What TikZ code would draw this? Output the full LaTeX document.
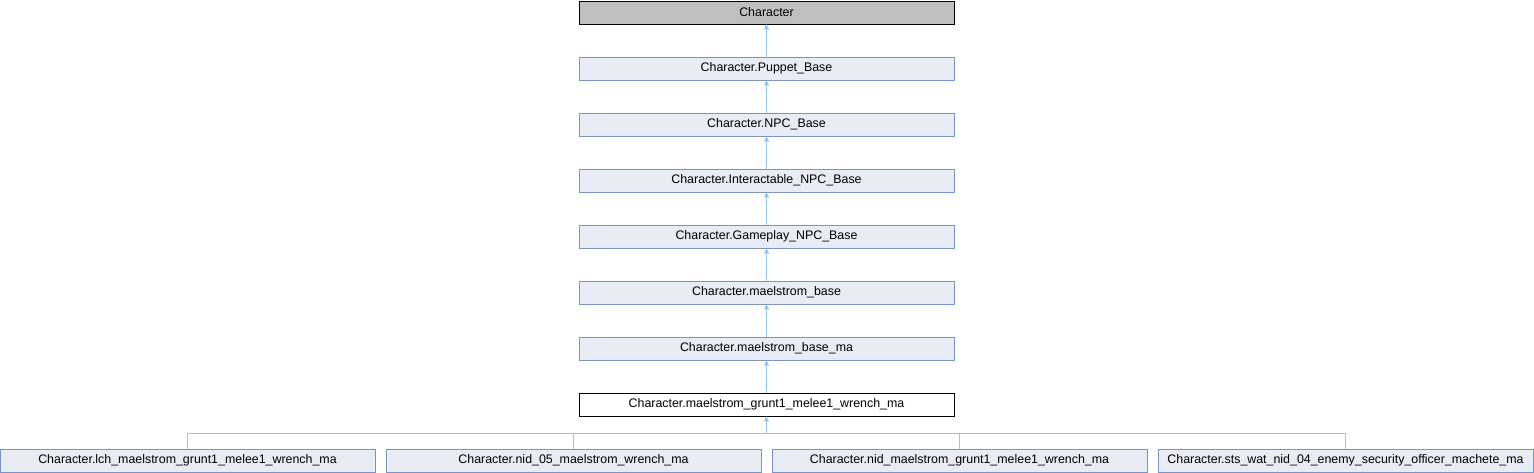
\documentclass[tikz,border=0pt]{standalone}
\usepackage{fontspec}
\setmainfont{Liberation Sans}
\usepackage{tikz}
\usetikzlibrary{arrows.meta,positioning}
\definecolor{edgeblue}{HTML}{9CC4E4}
\definecolor{boxfill}{HTML}{E8ECF5}
\definecolor{boxline}{HTML}{7B93C6}
\definecolor{rootfill}{HTML}{BFBFBF}
\tikzset{
  box/.style={rectangle, draw=boxline, fill=boxfill, line width=0.8pt,
              minimum width=375pt, minimum height=23pt, inner sep=0pt,
              font=\fontsize{12.4pt}{14pt}\selectfont},
  rootbox/.style={box, draw=black, fill=rootfill},
  curbox/.style={box, draw=black, fill=white},
  inherit/.style={-{Triangle[length=5pt, width=5pt]}, draw=edgeblue, line width=0.8pt},
  bus/.style={draw=edgeblue, line width=0.8pt}
}
\begin{document}
\begin{tikzpicture}[node distance=32.2pt]
  \useasboundingbox (0,0) rectangle (1534pt,-472pt);
  % inheritance chain
  \node[rootbox] (root) at (766.5pt,-12.5pt) {Character};
  \node[box, below=of root] (puppet) {Character.Puppet\_Base};
  \node[box, below=of puppet] (npc) {Character.NPC\_Base};
  \node[box, below=of npc] (inter) {Character.Interactable\_NPC\_Base};
  \node[box, below=of inter] (gameplay) {Character.Gameplay\_NPC\_Base};
  \node[box, below=of gameplay] (mbase) {Character.maelstrom\_base};
  \node[box, below=of mbase] (mbasema) {Character.maelstrom\_base\_ma};
  \node[curbox, below=of mbasema] (grunt) {Character.maelstrom\_grunt1\_melee1\_wrench\_ma};
  % derived classes
  \node[box, below=of grunt, xshift=-193pt] (nid05) {Character.nid\_05\_maelstrom\_wrench\_ma};
  \node[box, left=10.2pt of nid05] (lch) {Character.lch\_maelstrom\_grunt1\_melee1\_wrench\_ma};
  \node[box, right=10.2pt of nid05] (nidgrunt) {Character.nid\_maelstrom\_grunt1\_melee1\_wrench\_ma};
  \node[box, right=10.2pt of nidgrunt] (sts) {Character.sts\_wat\_nid\_04\_enemy\_security\_officer\_machete\_ma};
  \draw[inherit] (puppet) -- (root);
  \draw[inherit] (npc) -- (puppet);
  \draw[inherit] (inter) -- (npc);
  \draw[inherit] (gameplay) -- (inter);
  \draw[inherit] (mbase) -- (gameplay);
  \draw[inherit] (mbasema) -- (mbase);
  \draw[inherit] (grunt) -- (mbasema);
  \coordinate[below=17pt of grunt] (join);
  \draw[inherit] (join) -- (grunt);
  \foreach \c in {lch,nid05,nidgrunt,sts}
    \draw[bus] (\c.north) |- (join);
\end{tikzpicture}
\end{document}
